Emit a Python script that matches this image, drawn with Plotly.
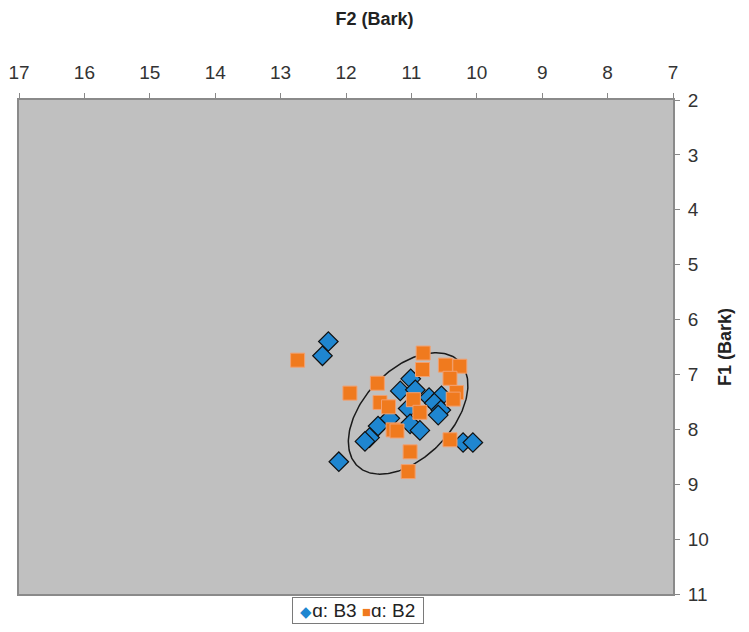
import numpy as np
import plotly.graph_objects as go

# Data
b3_f2 = [12.27, 12.36, 11.01, 11.17, 10.94, 10.73, 10.54, 10.65, 10.55, 10.59,
         11.05, 11.33, 11.51, 11.02, 10.87, 11.64, 11.71, 10.21, 10.06, 12.11]
b3_f1 = [6.40, 6.66, 7.08, 7.30, 7.28, 7.42, 7.39, 7.52, 7.65, 7.74,
         7.62, 7.80, 7.94, 7.90, 8.02, 8.15, 8.22, 8.24, 8.24, 8.59]

b2_f2 = [12.74, 10.82, 10.48, 10.26, 10.83, 10.41, 11.52, 11.94, 10.31, 10.36,
         10.97, 11.48, 11.35, 10.87, 11.28, 11.22, 10.41, 11.02, 11.05]
b2_f1 = [6.74, 6.61, 6.83, 6.85, 6.91, 7.07, 7.16, 7.34, 7.33, 7.45,
         7.46, 7.51, 7.59, 7.69, 8.01, 8.03, 8.19, 8.41, 8.77]

x_ticks = [17, 16, 15, 14, 13, 12, 11, 10, 9, 8, 7]
y_ticks = [2, 3, 4, 5, 6, 7, 8, 9, 10, 11]

series_names = ["ɑ: B3", "ɑ: B2"]
series_colors = ["#1f86d0", "#f07a1e"]

# Ellipse (confidence ellipse) parameters
ell_center = (11.05, 7.71)
W, H = 749, 632
ml, mr, mt, mb = 19, 76, 100, 38
px_per_x = (W - ml - mr) / 10.0
px_per_y = (H - mt - mb) / 9.0
a_px, b_px, theta = 73.0, 44.0, np.deg2rad(46)
t = np.linspace(0, 2 * np.pi, 240)
dx = a_px * np.cos(t) * np.cos(theta) - b_px * np.sin(t) * np.sin(theta)
dy = a_px * np.cos(t) * np.sin(theta) + b_px * np.sin(t) * np.cos(theta)
ell_x = ell_center[0] - dx / px_per_x
ell_y = ell_center[1] - dy / px_per_y

fig = go.Figure()
fig.add_trace(go.Scatter(x=ell_x, y=ell_y, mode="lines",
                         line=dict(color="#1a1a1a", width=1.5),
                         showlegend=False, hoverinfo="skip"))
fig.add_trace(go.Scatter(x=b3_f2, y=b3_f1, mode="markers", name=series_names[0],
                         showlegend=False,
                         marker=dict(symbol="diamond", size=15, color=series_colors[0],
                                     line=dict(color="#111111", width=1.2))))
fig.add_trace(go.Scatter(x=b2_f2, y=b2_f1, mode="markers", name=series_names[1],
                         showlegend=False,
                         marker=dict(symbol="square", size=14, color=series_colors[1],
                                     line=dict(color="#f2a070", width=1))))

axis_font = dict(family="Liberation Sans, Arial, sans-serif", size=19, color="#333333")
fig.update_layout(
    width=W, height=H,
    margin=dict(l=ml, r=mr, t=mt, b=mb),
    paper_bgcolor="white",
    plot_bgcolor="#c0c0c0",
    font=dict(family="Liberation Sans, Arial, sans-serif", color="#222222"),
    title=dict(text="<b>F2 (Bark)</b>", x=0.5, xanchor="center", y=0.971, yanchor="middle",
               font=dict(size=18, color="#222222")),
    xaxis=dict(side="top", range=[17, 7], tickvals=x_ticks, ticks="outside",
               ticklen=5, tickcolor="#888888", showgrid=False, zeroline=False,
               showline=True, linecolor="#8a8a8a", linewidth=2, mirror=True,
               tickfont=axis_font, automargin=False, ticklabelstandoff=6),
    yaxis=dict(side="right", range=[11, 2], tickvals=y_ticks, ticks="outside",
               ticklen=5, tickcolor="#888888", showgrid=False, zeroline=False,
               showline=True, linecolor="#8a8a8a", linewidth=2, mirror=True,
               tickfont=axis_font, automargin=False, ticklabelstandoff=4,
               title=dict(text="<b>F1 (Bark)</b>", font=dict(size=18, color="#222222"),
                          standoff=10)),
    showlegend=False,
)

legend_text = ('&nbsp;<span style="color:%s;font-size:15px">◆</span>%s '
               '<span style="color:%s;font-size:15px">■</span>%s&nbsp;'
               % (series_colors[0], series_names[0], series_colors[1], series_names[1]))
fig.add_annotation(text=legend_text, xref="paper", yref="paper", x=0.518, y=-0.006,
                   xanchor="center", yanchor="top", showarrow=False,
                   font=dict(size=19, color="#222222"),
                   bordercolor="#7a7a7a", borderwidth=1, borderpad=2, bgcolor="white")
fig.write_html("out.html", config={"displayModeBar": False},
               post_script="document.body.style.margin='0';document.body.style.padding='0';")
